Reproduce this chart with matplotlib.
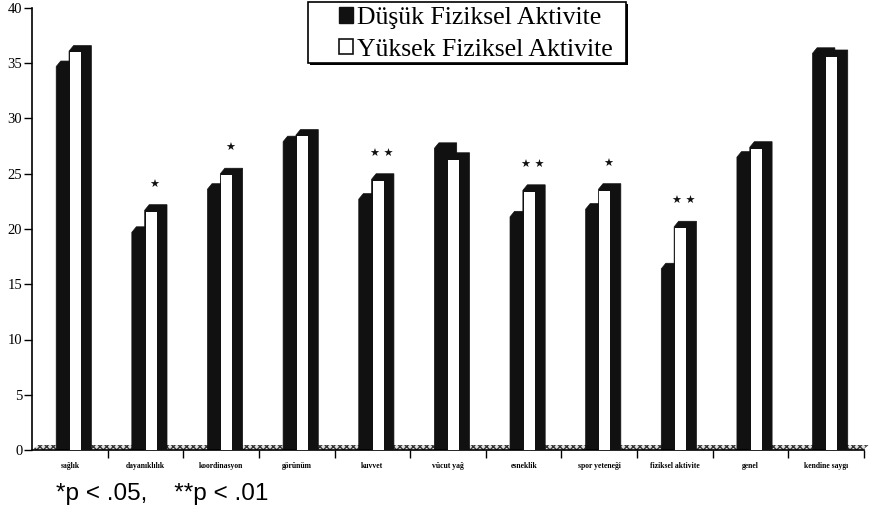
import matplotlib
matplotlib.use('Agg')
import matplotlib.pyplot as plt
from matplotlib.patches import Polygon, Rectangle, Patch

categories = ["sağlık", "dayanıklılık", "koordinasyon", "görünüm", "kuvvet",
              "vücut yağ", "esneklik", "spor yeteneği", "fiziksel aktivite",
              "genel", "kendine saygı"]
low_pa = [34.7, 19.7, 23.6, 27.9, 22.7, 27.3, 21.1, 21.8, 16.4, 26.5, 35.9]
high_pa = [36.1, 21.7, 25.0, 28.5, 24.5, 26.4, 23.5, 23.6, 20.2, 27.4, 35.7]
significance = ["", "*", "*", "", "**", "", "**", "*", "**", "", ""]
series_labels = ["Düşük Fiziksel Aktivite", "Yüksek Fiziksel Aktivite"]
y_ticks = [0, 5, 10, 15, 20, 25, 30, 35, 40]

W, H = 870, 509
fig = plt.figure(figsize=(W / 100, H / 100), dpi=100)
ax = fig.add_axes([32 / W, 59 / H, 832 / W, 442 / H])
ax.set_xlim(0, len(categories))
ax.set_ylim(0, 40)

# 3D look parameters (data units)
bw, dx, sx, dy = 0.17, 0.125, 0.06, 0.5
floor_h = 0.45

# floor
floor = Polygon([(0, 0), (0.08, floor_h), (len(categories) + 0.06, floor_h),
                 (len(categories) - 0.02, 0)], closed=True,
                facecolor='#e0e0e0', edgecolor='#333333', hatch='xxxxx',
                linewidth=0, zorder=1, clip_on=False)
ax.add_patch(floor)

for i in range(len(categories)):
    for j, vals in enumerate([low_pa, high_pa]):
        h = vals[i]
        x0 = i + 0.32 + j * bw
        sil = Polygon([(x0, 0), (x0, h), (x0 + sx, h + dy), (x0 + bw + dx, h + dy),
                       (x0 + bw + dx, 0)], closed=True, facecolor='#111111',
                      edgecolor='#111111', linewidth=0.5, zorder=2 + j)
        ax.add_patch(sil)
        if j == 1:
            face = Rectangle((x0 + 0.012, 0), bw - 0.024, h - 0.12, facecolor='white',
                             edgecolor='none', zorder=5)
            ax.add_patch(face)
    s = significance[i]
    if s:
        ax.text(i + 0.62, high_pa[i] + 2.3, " ".join(["★"] * len(s)), ha='center',
                va='center', fontsize=8, color='#111111', family='DejaVu Sans')

for sp in ['top', 'right']:
    ax.spines[sp].set_visible(False)
ax.spines['left'].set_linewidth(1.2)
ax.spines['bottom'].set_linewidth(1.2)

ax.set_yticks(y_ticks)
ax.set_yticklabels([str(t) for t in y_ticks], family='Liberation Serif', fontsize=10.5)
ax.tick_params(axis='y', direction='out', length=6, width=1, pad=1)

ax.set_xticks(range(1, len(categories) + 1))
ax.set_xticklabels([])
ax.tick_params(axis='x', which='major', direction='out', length=6, width=1)
ax.set_xticks([i + 0.5 for i in range(len(categories))], minor=True)
ax.set_xticklabels(categories, minor=True, family='Liberation Serif',
                   fontsize=5.5, fontweight='bold')
ax.tick_params(axis='x', which='minor', length=0, pad=9)

# legend box with shadow
bx, by, bwid, bht = 308, 2, 318, 61
fig.patches.append(Rectangle(((bx + 2) / W, 1 - (by + bht + 2) / H), bwid / W, bht / H,
                             transform=fig.transFigure, facecolor='black',
                             edgecolor='none', zorder=8))
fig.patches.append(Rectangle((bx / W, 1 - (by + bht) / H), bwid / W, bht / H,
                             transform=fig.transFigure, facecolor='white',
                             edgecolor='black', linewidth=1.2, zorder=9))
handles = [Patch(facecolor='#111111', edgecolor='#111111'),
           Patch(facecolor='white', edgecolor='#111111', linewidth=1.2)]
leg = fig.legend(handles, series_labels, loc='upper left',
                 bbox_to_anchor=(339 / W, 1 - 7 / H), frameon=False,
                 prop={'family': 'Liberation Serif', 'size': 18.5},
                 handlelength=0.55, handleheight=0.55, handletextpad=0.15,
                 borderpad=0, labelspacing=0.38, borderaxespad=0)
leg.set_zorder(10)

fig.text(56 / W, 1 - 494 / H, "*p < .05,    **p < .01", fontsize=17.5,
         family='Liberation Sans', va='center', ha='left')

fig.savefig('out.png', dpi=100)
